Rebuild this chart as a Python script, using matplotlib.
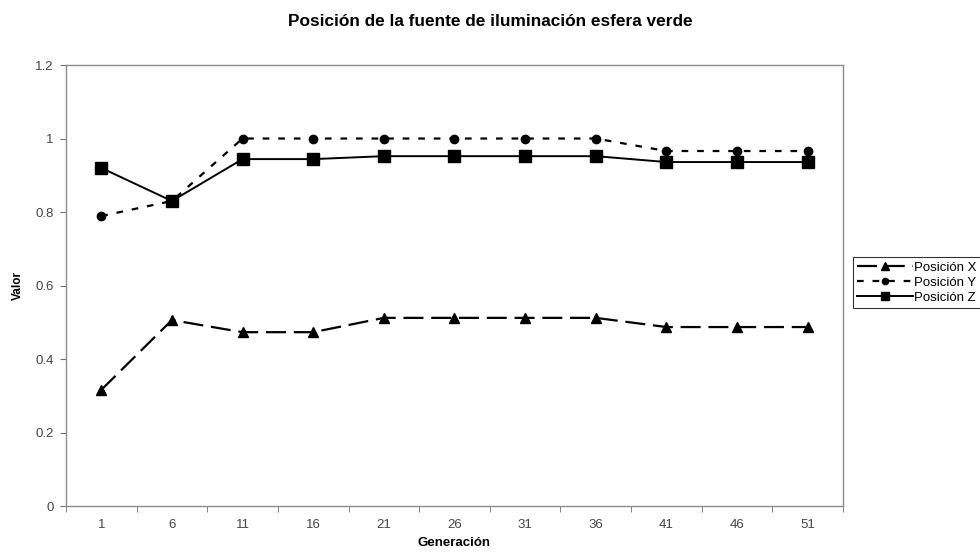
import matplotlib
matplotlib.use("Agg")
import matplotlib.pyplot as plt

plt.rcParams['font.family'] = ['Liberation Sans', 'DejaVu Sans']

# Generation labels on the category axis
generaciones = ["1", "6", "11", "16", "21", "26", "31", "36", "41", "46", "51"]

# Light source position per generation (green sphere)
pos_x = [0.316, 0.506, 0.473, 0.473, 0.512, 0.512, 0.512, 0.512, 0.487, 0.487, 0.487]
pos_y = [0.789, 0.830, 1.000, 1.000, 1.000, 1.000, 1.000, 1.000, 0.966, 0.966, 0.966]
pos_z = [0.920, 0.830, 0.944, 0.944, 0.952, 0.952, 0.952, 0.952, 0.936, 0.936, 0.936]

fig = plt.figure(figsize=(9.8, 5.52), dpi=100)
ax = fig.add_axes([0.0673, 0.0833, 0.7929, 0.7989])

idx = list(range(len(generaciones)))

ax.plot(idx, pos_x, color="black", lw=1.6, dashes=(9, 3.5),
        marker="^", ms=7.5, label="Posición X")
ax.plot(idx, pos_y, color="black", lw=1.6, dashes=(3, 4),
        marker="o", ms=6, label="Posición Y")
ax.plot(idx, pos_z, color="black", lw=1.4, ls="-",
        marker="s", ms=8, label="Posición Z")

ax.set_xlim(-0.5, len(generaciones) - 0.5)
ax.set_ylim(0, 1.2)
ax.set_yticks([0, 0.2, 0.4, 0.6, 0.8, 1.0, 1.2])
ax.set_yticklabels(["0", "0.2", "0.4", "0.6", "0.8", "1", "1.2"])

# category labels centred, tick marks between categories
ax.set_xticks(idx)
ax.set_xticklabels(generaciones)
ax.tick_params(axis="x", which="major", length=0, pad=9)
ax.set_xticks([i - 0.5 for i in range(len(generaciones) + 1)], minor=True)
ax.tick_params(axis="x", which="minor", length=4, direction="out", color="#707070")
ax.tick_params(axis="y", length=4, direction="out", color="#707070", pad=5)
ax.tick_params(labelsize=9.5, labelcolor="#454545")

for s in ax.spines.values():
    s.set_color("#8c8c8c")
    s.set_linewidth(1.0)

ax.set_xlabel("Generación", fontsize=9.5, fontweight="bold", labelpad=5)
ax.set_ylabel("Valor", fontsize=8.5, fontweight="bold", labelpad=8)
fig.suptitle("Posición de la fuente de iluminación esfera verde",
             fontsize=12.4, fontweight="bold", x=0.5, y=0.974)

leg = fig.legend(loc="upper left", bbox_to_anchor=(0.870, 0.534),
                 fontsize=9.5, frameon=True, fancybox=False, handlelength=4.2,
                 handletextpad=0.1, borderpad=0.35, labelspacing=0.2,
                 borderaxespad=0, markerscale=0.75)
leg.get_frame().set_edgecolor("black")
leg.get_frame().set_linewidth(0.8)

fig.savefig("out.png", dpi=100)
